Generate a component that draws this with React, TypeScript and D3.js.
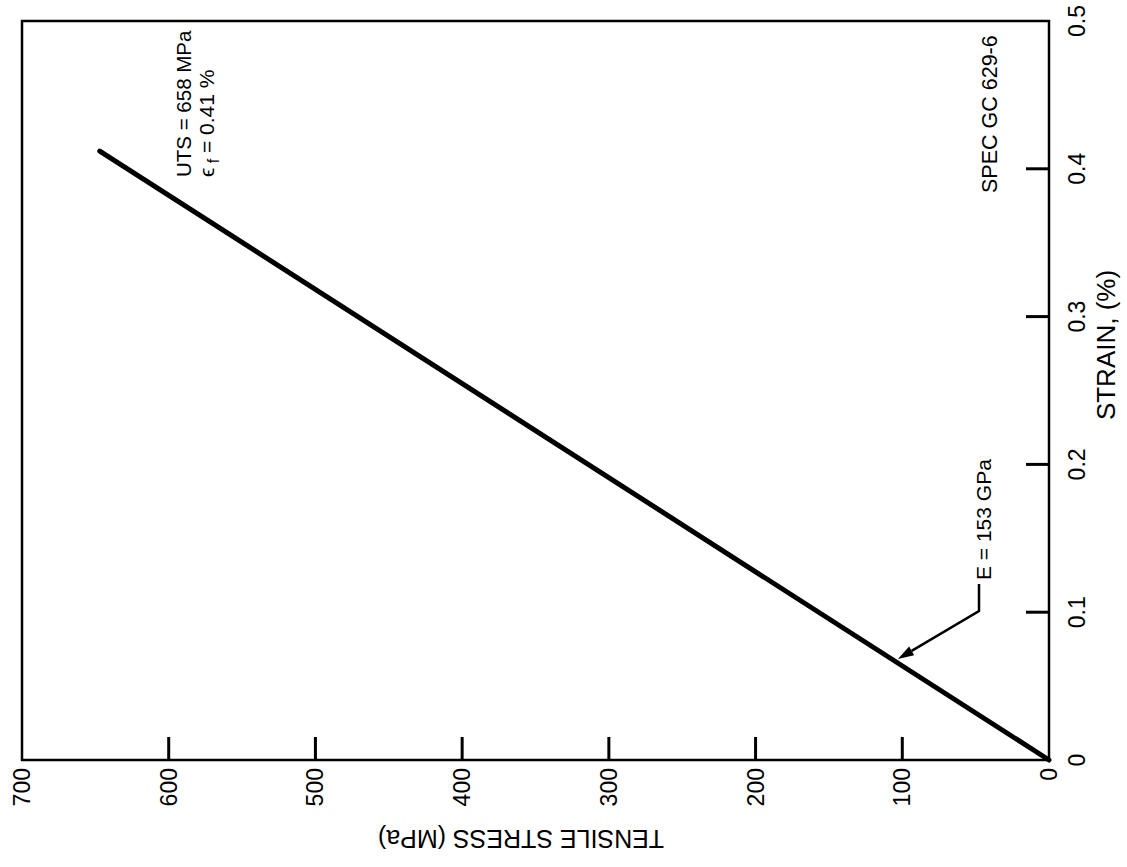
import React from "react";
import * as d3 from "d3";

const strainPts: number[] = [0, 0.412];
const stressPts: number[] = [0, 647];
const stressTicks: number[] = [0, 100, 200, 300, 400, 500, 600, 700];
const strainTicks: number[] = [0, 0.1, 0.2, 0.3, 0.4, 0.5];
const stressTitle = "TENSILE STRESS (MPa)";
const strainTitle = "STRAIN, (%)";
const specLabel = "SPEC GC 629-6";
const modulusLabel = "E = 153 GPa";
const utsLabel = "UTS = 658 MPa";

const W = 1127;
const H = 867;
const left = 22;
const right = 1049;
const top = 21;
const bottom = 760;
const FONT = "'Liberation Sans', Arial, Helvetica, sans-serif";

export default function App() {
  const x = d3.scaleLinear().domain([0, 700]).range([right, left]);
  const y = d3.scaleLinear().domain([0, 0.5]).range([bottom, top]);
  const line = d3
    .line<number>()
    .x((_, i) => x(stressPts[i]))
    .y((d) => y(d));
  const pathD = line(strainPts) || "";

  // leader for modulus annotation
  const tipStress = 103;
  const tipX = x(tipStress);
  const tipY = y((tipStress / 647) * 0.412) - 4;
  const elbowX = 979;
  const elbowY = 611;
  const topLeadY = 584;
  const ang = Math.atan2(tipY - elbowY, tipX - elbowX);
  const ah = 16;
  const aw = 5;
  const bx = tipX - ah * Math.cos(ang);
  const by = tipY - ah * Math.sin(ang);
  const px = -Math.sin(ang) * aw;
  const py = Math.cos(ang) * aw;

  return (
    <svg
      width={W}
      height={H}
      style={{ position: "absolute", left: 0, top: 0, background: "#fff" }}
      fontFamily={FONT}
    >
      <rect x={0} y={0} width={W} height={H} fill="#fff" />
      {/* frame */}
      <rect
        x={left}
        y={top}
        width={right - left}
        height={bottom - top}
        fill="none"
        stroke="#000"
        strokeWidth={2.5}
      />
      {/* stress ticks (bottom) */}
      {stressTicks.map((t) => (
        <g key={"s" + t}>
          {t > 0 && t < 700 && (
            <line x1={x(t)} x2={x(t)} y1={bottom} y2={bottom - 23} stroke="#000" strokeWidth={3} />
          )}
          <text
            transform={`translate(${x(t) + 8},${bottom + 8}) rotate(-90)`}
            textAnchor="end"
            fontSize={23}
            fill="#000"
          >
            {t}
          </text>
        </g>
      ))}
      {/* strain ticks (right) */}
      {strainTicks.map((t) => (
        <g key={"e" + t}>
          {t > 0 && t < 0.5 && (
            <line x1={right} x2={right - 23} y1={y(t)} y2={y(t)} stroke="#000" strokeWidth={3} />
          )}
          <text
            transform={`translate(${right + 36},${y(t)}) rotate(-90)`}
            textAnchor="middle"
            fontSize={23}
            fill="#000"
          >
            {t === 0 ? "0" : d3.format(".1f")(t)}
          </text>
        </g>
      ))}
      {/* axis titles */}
      <text
        transform={`translate(521,830) rotate(180)`}
        textAnchor="middle"
        fontSize={25}
        fill="#000"
      >
        {stressTitle}
      </text>
      <text
        transform={`translate(1115,345) rotate(-90)`}
        textAnchor="middle"
        fontSize={26}
        fill="#000"
      >
        {strainTitle}
      </text>
      {/* stress-strain line */}
      <path d={pathD} fill="none" stroke="#000" strokeWidth={5} strokeLinecap="round" />
      {/* annotations */}
      <text transform={`translate(191,177) rotate(-90)`} fontSize={20.5} fill="#000">
        {utsLabel}
      </text>
      <text transform={`translate(214,177) rotate(-90)`} fontSize={21} fill="#000">
        <tspan>ϵ</tspan>
        <tspan fontSize={16} dy={5}> f</tspan>
        <tspan dy={-5}> = 0.41 %</tspan>
      </text>
      <text transform={`translate(997,193) rotate(-90)`} fontSize={21.5} fill="#000">
        {specLabel}
      </text>
      <text transform={`translate(991,580) rotate(-90)`} fontSize={21} fill="#000">
        {modulusLabel}
      </text>
      <polyline
        points={`${elbowX},${topLeadY} ${elbowX},${elbowY} ${bx},${by}`}
        fill="none"
        stroke="#000"
        strokeWidth={2.5}
      />
      <polygon
        points={`${tipX},${tipY} ${bx + px},${by + py} ${bx - px},${by - py}`}
        fill="#000"
      />
    </svg>
  );
}
